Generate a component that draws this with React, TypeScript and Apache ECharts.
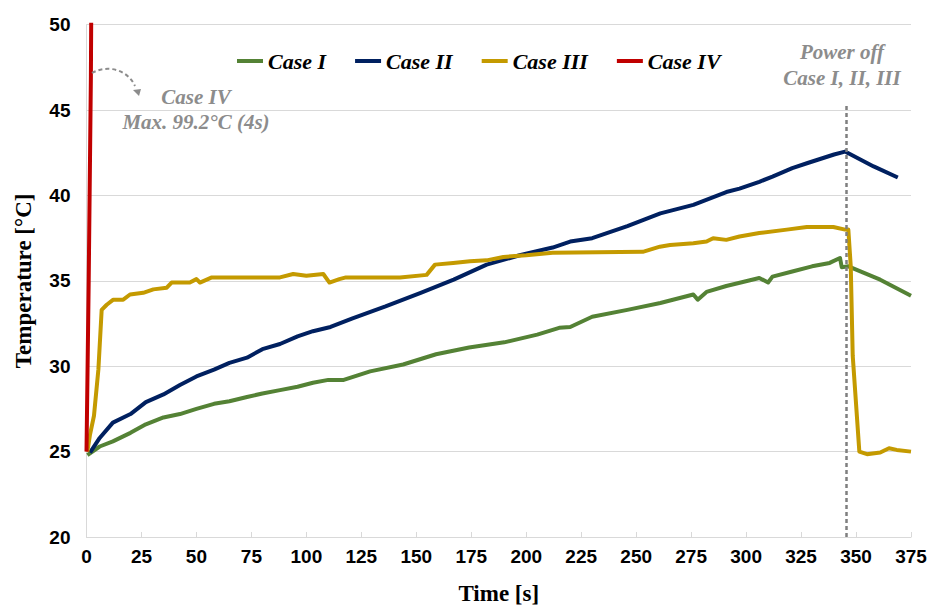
import React, { useEffect, useRef } from "react";
import * as echarts from "echarts";

// Time axis ticks
const timeTicks = [0, 25, 50, 75, 100, 125, 150, 175, 200, 225, 250, 275, 300, 325, 350, 375];

// Case I
const case1Time = [0.4, 6, 12, 20, 27, 35, 42.5, 50, 58, 65, 73, 80, 88, 96, 103, 110, 117, 129, 144, 159, 174, 190, 205, 215, 220, 230, 246, 261, 276, 278, 282, 291, 306, 310, 312, 321, 330, 338, 342.7, 343.5, 346.5, 361, 375];
const case1Temp = [24.8, 25.3, 25.6, 26.1, 26.6, 27.0, 27.2, 27.5, 27.8, 27.95, 28.2, 28.4, 28.6, 28.8, 29.03, 29.2, 29.2, 29.7, 30.1, 30.7, 31.1, 31.4, 31.85, 32.25, 32.3, 32.9, 33.3, 33.7, 34.2, 33.9, 34.35, 34.7, 35.17, 34.9, 35.25, 35.55, 35.85, 36.05, 36.34, 35.8, 35.85, 35.07, 34.13];

// Case II
const case2Time = [1.6, 6, 12, 20, 27, 35, 42.5, 50, 58, 65, 73, 80, 88, 96, 103, 111, 121, 136, 152, 167, 182, 197, 212, 220, 230, 246, 261, 276, 291, 297, 306, 312, 321, 328, 340, 345, 358, 369];
const case2Temp = [24.94, 25.8, 26.7, 27.2, 27.9, 28.35, 28.9, 29.4, 29.8, 30.2, 30.5, 31.0, 31.3, 31.75, 32.05, 32.3, 32.8, 33.5, 34.3, 35.07, 35.95, 36.5, 36.95, 37.3, 37.5, 38.2, 38.95, 39.45, 40.2, 40.4, 40.8, 41.1, 41.6, 41.9, 42.4, 42.57, 41.7, 41.05];

// Case III
const case3Time = [0.4, 1.6, 3.4, 5.4, 6.9, 9.2, 12.2, 16.7, 19.8, 25.8, 30.4, 36.5, 38.7, 47, 50, 51.6, 57, 88, 94, 100, 107.7, 110.5, 115, 118, 142.6, 154.7, 158.5, 166.8, 174.4, 182, 189.6, 200, 212, 253, 260.8, 265.4, 276, 282, 285, 291, 297, 306, 318.5, 327.6, 339.7, 345, 346.5, 347.6, 348.5, 351.5, 355, 361, 365, 368.5, 375];
const case3Temp = [25.0, 26.0, 27.1, 29.8, 33.3, 33.6, 33.9, 33.9, 34.2, 34.3, 34.5, 34.6, 34.9, 34.9, 35.1, 34.9, 35.2, 35.2, 35.4, 35.3, 35.4, 34.9, 35.1, 35.2, 35.2, 35.35, 35.95, 36.05, 36.15, 36.2, 36.4, 36.5, 36.65, 36.7, 37.0, 37.1, 37.2, 37.3, 37.5, 37.4, 37.6, 37.8, 38.0, 38.15, 38.15, 38.0, 38.0, 35.85, 30.6, 25.0, 24.85, 24.95, 25.2, 25.1, 25.0];

// Case IV (peaks at 99.2 °C after 4 s, well above the axis range)
const case4Time = [0, 1, 2, 3, 4];
const case4Temp = [25.0, 35.0, 47.0, 70.0, 99.2];

const seriesNames = ["Case I", "Case II", "Case III", "Case IV"];
const seriesColors = ["#548235", "#002060", "#C49A00", "#C00000"];

const powerOffTime = 345.7;

const zip = (t: number[], v: number[]) => t.map((x, i) => [x, v[i]]);

const SERIF = "'Liberation Serif', 'Times New Roman', serif";
const SANS = "'Liberation Sans', Arial, sans-serif";

export default function App() {
  const ref = useRef<HTMLDivElement>(null);

  useEffect(() => {
    if (!ref.current) return;
    const chart = echarts.init(ref.current, null, { renderer: "svg" });

    const datasets = [
      zip(case1Time, case1Temp),
      zip(case2Time, case2Temp),
      zip(case3Time, case3Temp),
      zip(case4Time, case4Temp),
    ];

    const noteStyle = {
      fill: "#8c8c8c",
      font: `italic bold 21px ${SERIF}`,
      textAlign: "center" as const,
      textVerticalAlign: "middle" as const,
    };

    chart.setOption({
      animation: false,
      backgroundColor: "#ffffff",
      grid: { left: 86.5, right: 22, top: 24.7, bottom: 72.3, containLabel: false },
      legend: {
        left: 237,
        top: 50,
        padding: 0,
        itemWidth: 26,
        itemHeight: 4,
        itemGap: 29,
        icon: "rect",
        data: seriesNames,
        textStyle: {
          fontFamily: SERIF,
          fontStyle: "italic",
          fontWeight: "bold",
          fontSize: 22,
          color: "#000",
        },
      },
      xAxis: {
        type: "value",
        min: timeTicks[0],
        max: timeTicks[timeTicks.length - 1],
        interval: 25,
        name: "Time [s]",
        nameLocation: "middle",
        nameGap: 45,
        nameTextStyle: { fontFamily: SERIF, fontWeight: "bold", fontSize: 23, color: "#000" },
        axisLine: { show: true, lineStyle: { color: "#d9d9d9", width: 1 } },
        axisTick: { show: true, inside: true, length: 5, lineStyle: { color: "#d9d9d9" } },
        axisLabel: { fontFamily: SANS, fontWeight: "bold", fontSize: 19, color: "#000", margin: 10 },
        splitLine: { show: false },
      },
      yAxis: {
        type: "value",
        min: 20,
        max: 50,
        interval: 5,
        name: "Temperature [°C]",
        nameLocation: "middle",
        nameGap: 52,
        nameTextStyle: { fontFamily: SERIF, fontWeight: "bold", fontSize: 23, color: "#000" },
        axisLine: { show: true, lineStyle: { color: "#d9d9d9", width: 1 } },
        axisTick: { show: false },
        axisLabel: { fontFamily: SANS, fontWeight: "bold", fontSize: 19, color: "#000", margin: 16 },
        splitLine: { show: true, lineStyle: { color: "#d9d9d9", width: 1 } },
      },
      series: seriesNames.map((name, i) => ({
        name,
        type: "line",
        data: datasets[i],
        showSymbol: false,
        symbol: "none",
        clip: true,
        z: i === 3 ? 5 : 3,
        lineStyle: { color: seriesColors[i], width: 4, join: "round" },
        itemStyle: { color: seriesColors[i] },
        markLine:
          i === 0
            ? {
                silent: true,
                symbol: "none",
                label: { show: false },
                lineStyle: { color: "#7f7f7f", type: [4, 3], width: 2.5 },
                data: [
                  [
                    { coord: [powerOffTime, 20] },
                    { coord: [powerOffTime, 45.4] },
                  ],
                ],
              }
            : undefined,
      })),
      graphic: [
        {
          type: "bezierCurve",
          shape: { x1: 92, y1: 73, x2: 135, y2: 86, cpx1: 108, cpy1: 64, cpx2: 128, cpy2: 70 },
          style: { stroke: "#8c8c8c", lineWidth: 2, lineDash: [4, 3], fill: null },
          z: 10,
        },
        {
          type: "polygon",
          shape: { points: [[133, 90], [141, 89], [139, 96]] },
          style: { fill: "#8c8c8c" },
          z: 10,
        },
        { type: "text", x: 196, y: 97, style: { ...noteStyle, text: "Case IV" }, z: 10 },
        { type: "text", x: 196, y: 122, style: { ...noteStyle, text: "Max. 99.2°C (4s)" }, z: 10 },
        { type: "text", x: 842, y: 52, style: { ...noteStyle, text: "Power off" }, z: 10 },
        { type: "text", x: 842, y: 78, style: { ...noteStyle, text: "Case I, II, III" }, z: 10 },
      ],
    });

    return () => chart.dispose();
  }, []);

  return <div ref={ref} style={{ width: 933, height: 610, position: "absolute", left: 0, top: 0 }} />;
}
